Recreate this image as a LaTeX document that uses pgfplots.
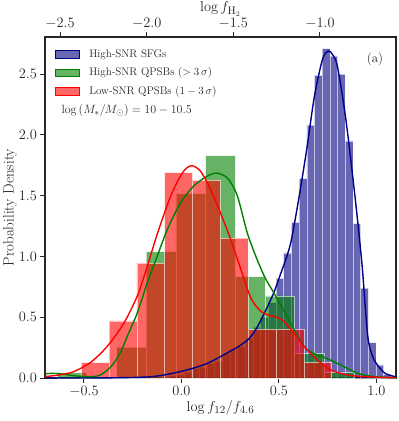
\documentclass[border=0pt]{standalone}
\usepackage{pgfplots}
\pgfplotsset{compat=1.18}
\definecolor{navyc}{RGB}{0,0,128}
\definecolor{darkbluec}{RGB}{0,0,139}
\definecolor{greenc}{RGB}{0,128,0}
\definecolor{redc}{RGB}{255,0,0}
\definecolor{txt}{RGB}{38,38,38}
\begin{document}
\begin{tikzpicture}
\begin{axis}[
  name=main,
  scale only axis, width=351pt, height=341pt,
  xmin=-0.7, xmax=1.1, ymin=0, ymax=2.805,
  xtick={-0.5,0,0.5,1}, ytick={0,0.5,1,1.5,2,2.5},
  xtick pos=lower, ytick pos=left, tick align=outside,
  major tick length=4.5pt,
  tick style={txt, line width=1pt},
  axis line style={txt, line width=1.2pt},
  /pgf/number format/.cd, fixed, fixed zerofill, precision=1, /pgfplots/.cd,
  ticklabel style={font=\fontsize{15}{18}\selectfont, text=txt},
  label style={font=\fontsize{15}{18}\selectfont, text=txt},
  xlabel={$\log f_{12}/f_{4.6}$},
  ylabel={Probability Density},
  xlabel style={at={(axis description cs:0.5,-0.088)}, anchor=center},
  ylabel style={at={(axis description cs:-0.0997,0.5)}, anchor=center},
  legend style={at={(rel axis cs:0.0285,0.970)}, anchor=north west, draw=none, fill=none,
    font=\fontsize{11}{13}\selectfont, text=txt, row sep=5pt, inner xsep=0pt, inner ysep=0pt},
  legend cell align=left,
]
\coordinate (bl) at (rel axis cs:0,0);
\coordinate (tr) at (rel axis cs:1,1);
% blue histogram
\addplot[ybar interval, fill=navyc, fill opacity=0.6, draw=white, draw opacity=0.6, line width=0.5pt, forget plot] coordinates {
(-0.1061,0.01) (-0.0667,0.02) (-0.0273,0.03) (0.0121,0.05) (0.0515,0.08) (0.0909,0.09)
(0.1303,0.12) (0.1697,0.14) (0.2091,0.20) (0.2485,0.24) (0.2879,0.26) (0.3273,0.33)
(0.3667,0.42) (0.4061,0.50) (0.4455,0.62) (0.4849,0.82) (0.5243,1.03) (0.5637,1.28)
(0.6031,1.64) (0.6425,2.08) (0.6819,2.49) (0.7213,2.71) (0.7607,2.65) (0.8001,2.50)
(0.8395,1.95) (0.8789,1.27) (0.9183,0.74) (0.9577,0.29) (0.9971,0.107) (1.0365,0.03)
(1.0759,0.01) (1.1153,0)};
% green histogram
\addplot[ybar interval, fill=greenc, fill opacity=0.6, draw=white, draw opacity=0.6, line width=0.5pt, forget plot] coordinates {
(-0.638,0.044) (-0.486,0.0) (-0.333,0.253) (-0.181,1.04) (-0.029,1.516) (0.124,1.83)
(0.276,0.834) (0.428,0.675) (0.580,0.20) (0.733,0.045) (0.885,0)};
% red histogram
\addplot[ybar interval, fill=redc, fill opacity=0.6, draw=white, draw opacity=0.6, line width=0.5pt, forget plot] coordinates {
(-0.514,0.126) (-0.371,0.47) (-0.229,0.945) (-0.086,1.69) (0.057,1.625) (0.200,1.15)
(0.342,0.40) (0.485,0.40) (0.628,0.126) (0.770,0)};
% KDE lines
\addplot[darkbluec, line width=1.4pt, smooth, forget plot] coordinates {
(-0.70,0.0) (-0.40,0.001) (-0.211,0.006) (-0.125,0.016) (-0.041,0.04) (0.046,0.074)
(0.132,0.12) (0.216,0.19) (0.26,0.23) (0.303,0.27) (0.35,0.33) (0.389,0.42) (0.43,0.55)
(0.473,0.70) (0.509,0.86) (0.54,1.0) (0.564,1.14) (0.603,1.49) (0.642,1.88) (0.682,2.32)
(0.723,2.62) (0.752,2.69) (0.775,2.66) (0.800,2.56) (0.841,2.15) (0.880,1.63) (0.906,1.25)
(0.928,0.89) (0.954,0.36) (0.975,0.20) (1.003,0.11) (1.043,0.04) (1.09,0.013) (1.10,0.01)};
\addplot[greenc, line width=1.4pt, smooth, forget plot] coordinates {
(-0.70,0.035) (-0.656,0.038) (-0.60,0.03) (-0.553,0.019) (-0.50,0.012) (-0.45,0.012)
(-0.416,0.025) (-0.38,0.065) (-0.348,0.12) (-0.31,0.22) (-0.279,0.34) (-0.228,0.53)
(-0.176,0.78) (-0.125,1.0) (-0.073,1.22) (-0.005,1.44) (0.063,1.58) (0.132,1.66)
(0.180,1.685) (0.235,1.645) (0.286,1.50) (0.338,1.19) (0.389,0.97) (0.43,0.82) (0.47,0.71)
(0.509,0.60) (0.56,0.45) (0.629,0.26) (0.68,0.20) (0.731,0.17) (0.817,0.107) (0.903,0.038)
(0.988,0.012) (1.1,0.002)};
\addplot[redc, line width=1.4pt, smooth, forget plot] coordinates {
(-0.70,0.012) (-0.65,0.02) (-0.60,0.033) (-0.553,0.052) (-0.468,0.126) (-0.382,0.258)
(-0.296,0.45) (-0.228,0.67) (-0.185,0.87) (-0.125,1.18) (-0.057,1.49) (0.004,1.686)
(0.05,1.746) (0.098,1.70) (0.149,1.55) (0.2,1.357) (0.252,1.14) (0.303,0.90) (0.355,0.66)
(0.406,0.55) (0.45,0.515) (0.49,0.50) (0.526,0.464) (0.577,0.368) (0.629,0.258)
(0.697,0.148) (0.766,0.066) (0.85,0.025) (0.937,0.011) (1.1,0.002)};
\addlegendimage{legend image code/.code={\fill[navyc, fill opacity=0.6] (0pt,-3.7pt) rectangle (24pt,3.7pt); \path[draw=none, fill=none] (24pt,0pt) rectangle (32pt,0.1pt);}}
\addlegendentry{High-SNR SFGs}
\addlegendimage{legend image code/.code={\fill[greenc, fill opacity=0.6] (0pt,-3.7pt) rectangle (24pt,3.7pt); \path[draw=none, fill=none] (24pt,0pt) rectangle (32pt,0.1pt);}}
\addlegendentry{High-SNR QPSBs ($>3\,\sigma$)}
\addlegendimage{legend image code/.code={\fill[redc, fill opacity=0.6] (0pt,-3.7pt) rectangle (24pt,3.7pt); \path[draw=none, fill=none] (24pt,0pt) rectangle (32pt,0.1pt);}}
\addlegendentry{Low-SNR QPSBs ($1-3\,\sigma$)}
\node[anchor=west, font=\fontsize{12.3}{14}\selectfont, text=txt] at (rel axis cs:0.037,0.783) {$\log\,(M_\ast/M_\odot) = 10 - 10.5$};
\node[font=\fontsize{13}{15}\selectfont, text=txt] at (rel axis cs:0.94,0.935) {(a)};
\end{axis}
\begin{axis}[
  scale only axis, width=351pt, height=341pt,
  xmin=-2.587, xmax=-0.561, ymin=0, ymax=1,
  axis x line*=top, axis y line=none,
  xtick={-2.5,-2,-1.5,-1}, tick align=outside,
  major tick length=4.5pt,
  tick style={txt, line width=1pt},
  axis line style={txt, line width=1.2pt},
  /pgf/number format/.cd, fixed, fixed zerofill, precision=1, /pgfplots/.cd,
  ticklabel style={font=\fontsize{15}{18}\selectfont, text=txt},
  label style={font=\fontsize{15}{18}\selectfont, text=txt},
  xlabel={$\log f_{\mathrm{H}_2}$},
  xlabel style={at={(axis description cs:0.5,1.082)}, anchor=center},
]
\addplot[draw=none, forget plot] coordinates {(-2,0.5)};
\end{axis}
\pgfresetboundingbox
\path[use as bounding box] ([xshift=-45pt,yshift=-43pt]bl) rectangle ([xshift=3pt,yshift=37pt]tr);
\end{tikzpicture}
\end{document}
